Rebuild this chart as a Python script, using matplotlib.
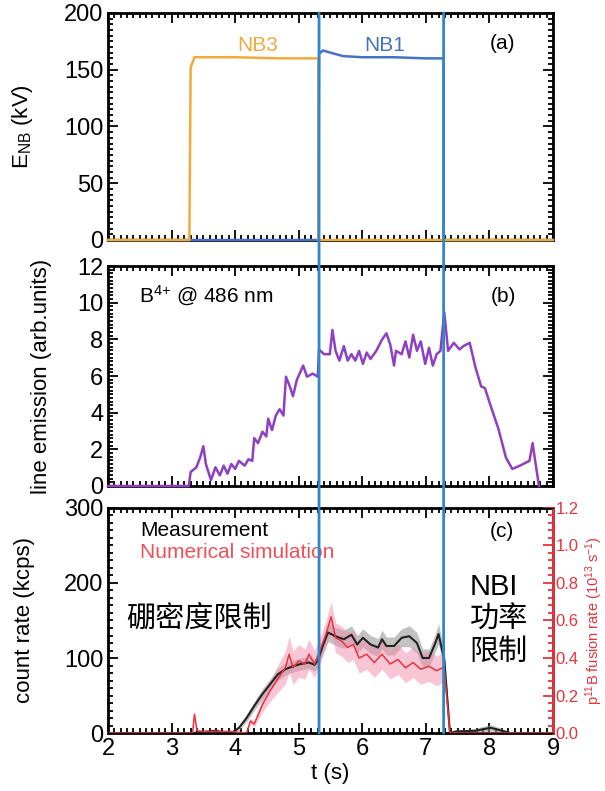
import numpy as np
import matplotlib
matplotlib.use("Agg")
import matplotlib.pyplot as plt
from matplotlib.ticker import MultipleLocator
from matplotlib.patches import ConnectionPatch

plt.rcParams['font.family'] = ['Liberation Sans', 'Noto Sans CJK SC', 'DejaVu Sans']
plt.rcParams['mathtext.default'] = 'regular'

# (a) beam energy
nb3_t = [2.0, 3.28, 3.30, 3.36, 4.0, 4.7, 5.31, 5.31, 9.0]
nb3_e = [0, 0, 152, 161, 161, 160, 160, 0, 0]
nb1_t = [2.0, 5.31, 5.32, 5.38, 5.5, 5.7, 6.0, 6.5, 7.0, 7.28, 7.28, 9.0]
nb1_e = [0, 0, 164, 167, 165, 162, 161, 161, 160, 160, 0, 0]

# (b) B4+ line emission
emis_t = [2.0, 3.27, 3.30, 3.39, 3.45, 3.50, 3.54, 3.62, 3.69, 3.76, 3.82, 3.88, 3.94, 4.00,
          4.06, 4.15, 4.21, 4.27, 4.30, 4.36, 4.43, 4.49, 4.52, 4.58, 4.64, 4.70, 4.76, 4.80,
          4.86, 4.91, 4.97, 5.07, 5.13, 5.22, 5.30, 5.32, 5.40, 5.49, 5.53, 5.58, 5.64, 5.71,
          5.77, 5.83, 5.89, 5.95, 6.01, 6.07, 6.13, 6.22, 6.31, 6.38, 6.44, 6.50, 6.53, 6.62,
          6.68, 6.74, 6.80, 6.86, 6.92, 6.99, 7.05, 7.11, 7.17, 7.23, 7.29, 7.35, 7.44, 7.53,
          7.59, 7.69, 7.78, 7.87, 7.93, 8.02, 8.14, 8.26, 8.36, 8.48, 8.63, 8.68, 8.72, 8.78]
emis_v = [0, 0, 0.76, 1.02, 1.55, 2.17, 1.2, 0.32, 1.02, 0.58, 1.11, 0.67, 1.2, 0.93,
          1.37, 1.11, 1.46, 1.37, 2.61, 2.34, 2.96, 2.70, 3.67, 3.05, 3.84, 4.19, 3.84, 5.96,
          5.43, 4.90, 5.78, 6.57, 5.96, 6.13, 5.96, 7.45, 7.19, 7.19, 8.51, 7.37, 6.84, 7.63,
          6.84, 7.19, 6.84, 7.37, 6.66, 7.28, 6.93, 7.37, 7.98, 8.33, 7.72, 6.57, 7.37, 7.19,
          7.89, 7.01, 8.25, 7.37, 7.89, 6.66, 7.54, 6.57, 7.19, 7.37, 9.48, 7.37, 7.81, 7.45,
          7.63, 7.81, 6.48, 5.43, 5.34, 4.37, 3.14, 1.55, 0.93, 1.11, 1.37, 2.34, 1.37, 0]

# (c) count rate
meas_t = [2.0, 3.33, 3.57, 3.69, 3.82, 3.94, 4.06, 4.18, 4.30, 4.43, 4.55, 4.67, 4.79, 4.91,
          5.03, 5.16, 5.25, 5.31, 5.37, 5.46, 5.58, 5.71, 5.83, 5.92, 6.01, 6.13, 6.25, 6.31,
          6.38, 6.50, 6.62, 6.74, 6.86, 6.95, 7.05, 7.14, 7.20, 7.26, 7.29, 7.38, 7.47, 7.78,
          7.90, 8.02, 8.20, 8.33, 9.0]
meas_v = [0, 0, 2, 3, 1, 0, 7, 20, 36, 52, 65, 78, 85, 89,
          92, 94, 91, 98, 114, 134, 129, 125, 131, 118, 127, 118, 114, 125,
          116, 116, 127, 129, 120, 100, 100, 118, 132, 109, 98, 0, 2, 3,
          5, 7, 3, 0, 0]
meas_err = [0, 0, 1, 2, 1, 0, 3, 5, 6, 7, 7, 8, 8, 8,
            8, 8, 8, 9, 10, 12, 12, 12, 12, 12, 12, 12, 12, 12,
            12, 12, 12, 14, 14, 12, 12, 12, 14, 12, 10, 0, 2, 3,
            4, 4, 3, 0, 0]
sim_t = [2.0, 3.33, 3.36, 3.40, 3.51, 3.94, 4.18, 4.24, 4.30, 4.43, 4.55, 4.67, 4.79, 4.85,
         4.91, 5.00, 5.10, 5.16, 5.25, 5.31, 5.43, 5.51, 5.58, 5.67, 5.77, 5.86, 5.95, 6.07,
         6.19, 6.31, 6.44, 6.56, 6.68, 6.80, 6.92, 7.05, 7.17, 7.26, 7.29, 7.38, 9.0]
sim_v = [0, 0, 25, 3, 2, 2, 0, 16, 12, 38, 56, 72, 87, 105,
         87, 96, 92, 105, 92, 105, 132, 155, 127, 123, 114, 118, 100, 105,
         94, 105, 92, 98, 87, 94, 85, 89, 83, 87, 85, 0, 0]
sim_err = [0, 0, 3, 1, 1, 1, 0, 4, 4, 10, 14, 18, 22, 24,
           22, 22, 20, 20, 18, 18, 18, 20, 20, 20, 20, 20, 20, 20,
           20, 20, 20, 20, 20, 20, 20, 20, 20, 20, 20, 0, 0]

nbi_switch = [5.32, 7.28]

ORANGE = '#f2a93b'
BLUE = '#4472c4'
VLINE = '#2f86c8'
PURPLE = '#8e3fc2'
RED = '#e8333c'

fig = plt.figure(figsize=(6.05, 7.91), dpi=100)
left, width = 0.1785, 0.7355
ax1 = fig.add_axes([left, 0.6966, width, 0.287])
ax2 = fig.add_axes([left, 0.3856, width, 0.2781])
ax3 = fig.add_axes([left, 0.0733, width, 0.2845])
ax3r = ax3.twinx()

def style(ax, ymin, ymax, ymajor, yminor):
    ax.set_xlim(2, 9)
    ax.set_ylim(ymin, ymax)
    ax.xaxis.set_major_locator(MultipleLocator(1))
    ax.xaxis.set_minor_locator(MultipleLocator(0.1))
    ax.yaxis.set_major_locator(MultipleLocator(ymajor))
    ax.yaxis.set_minor_locator(MultipleLocator(yminor))
    ax.tick_params(which='both', direction='in', top=True, right=True, width=1.3)
    ax.tick_params(which='major', length=7, labelsize=17)
    ax.tick_params(which='minor', length=3.5)
    for s in ax.spines.values():
        s.set_linewidth(2)

style(ax1, 0, 200, 50, 5)
style(ax2, 0, 12, 2, 0.2)
style(ax3, 0, 300, 100, 10)
ax1.tick_params(labelbottom=False)
ax2.tick_params(labelbottom=False)
ax3.tick_params(which='both', right=False)

# panel a
ax1.plot(nb1_t, nb1_e, color=BLUE, lw=1.8, clip_on=False, zorder=3)
ax1.plot(nb3_t, nb3_e, color=ORANGE, lw=1.8, clip_on=False, zorder=3)
ax1.text(4.36, 171, 'NB3', color=ORANGE, fontsize=15, ha='center', va='center')
ax1.text(6.35, 171, 'NB1', color=BLUE, fontsize=15, ha='center', va='center')
ax1.text(8.2, 173, '(a)', fontsize=15, ha='center', va='center')
ax1.set_ylabel('E$_{NB}$ (kV)', fontsize=16)
ax1.yaxis.set_label_coords(-0.165, 0.5)

# panel b
ax2.plot(emis_t, emis_v, color=PURPLE, lw=1.8, clip_on=False, zorder=3)
ax2.text(2.48, 10.36, 'B$^{4{+}}$ @ 486 nm', fontsize=15, ha='left', va='center')
ax2.text(8.22, 10.36, '(b)', fontsize=15, ha='center', va='center')
ax2.set_ylabel('line emission (arb.units)', fontsize=16)
ax2.yaxis.set_label_coords(-0.125, 0.5)

# panel c
mt, mv, me = np.array(meas_t), np.array(meas_v), np.array(meas_err)
st, sv, se = np.array(sim_t), np.array(sim_v), np.array(sim_err)
ax3.fill_between(mt, mv - me, mv + me, color='#9a9a9a', alpha=0.6, lw=0, zorder=2)
ax3.fill_between(st, sv - se, sv + se, color='#f28cab', alpha=0.5, lw=0, zorder=2)
ax3.plot(mt, mv, color='#222222', lw=1.5, zorder=4, clip_on=False)
ax3.plot(st, sv, color=RED, lw=1.1, zorder=4, clip_on=False)
ax3.text(2.51, 270, 'Measurement', fontsize=15, ha='left', va='center')
ax3.text(2.51, 240, 'Numerical simulation', color='#f0505a', fontsize=15, ha='left', va='center')
ax3.text(8.2, 269, '(c)', fontsize=15, ha='center', va='center')
ax3.text(2.29, 153, '硼密度限制', fontsize=21, ha='left', va='center')
ax3.text(7.69, 151, 'NBI\n功率\n限制', fontsize=21, ha='left', va='center', linespacing=1.2)
ax3.set_ylabel('count rate (kcps)', fontsize=16)
ax3.yaxis.set_label_coords(-0.165, 0.5)
ax3.set_xlabel('t (s)', fontsize=16, labelpad=2)

ax3r.set_ylim(0, 1.2)
ax3r.yaxis.set_major_locator(MultipleLocator(0.2))
ax3r.yaxis.set_minor_locator(MultipleLocator(0.04))
ax3r.yaxis.set_major_formatter(plt.FormatStrFormatter('%.1f'))
ax3r.tick_params(which='both', direction='in', colors=RED, width=1.3)
ax3r.tick_params(which='major', length=7, labelsize=12, pad=2)
ax3r.tick_params(which='minor', length=3.5)
ax3r.spines['right'].set_color(RED)
ax3r.spines['right'].set_linewidth(2)
ax3r.set_ylabel('p$^{11}$B fusion rate (10$^{13}$ s$^{-1}$)', color=RED, fontsize=10.5, rotation=90)
ax3r.yaxis.set_label_coords(1.068, 0.5)

# NBI switch lines across all panels
for ts in nbi_switch:
    con = ConnectionPatch(xyA=(ts, 200), coordsA=ax1.transData,
                          xyB=(ts, 0), coordsB=ax3.transData,
                          color=VLINE, lw=2, zorder=10)
    fig.add_artist(con)

fig.savefig('out.png', dpi=100)
